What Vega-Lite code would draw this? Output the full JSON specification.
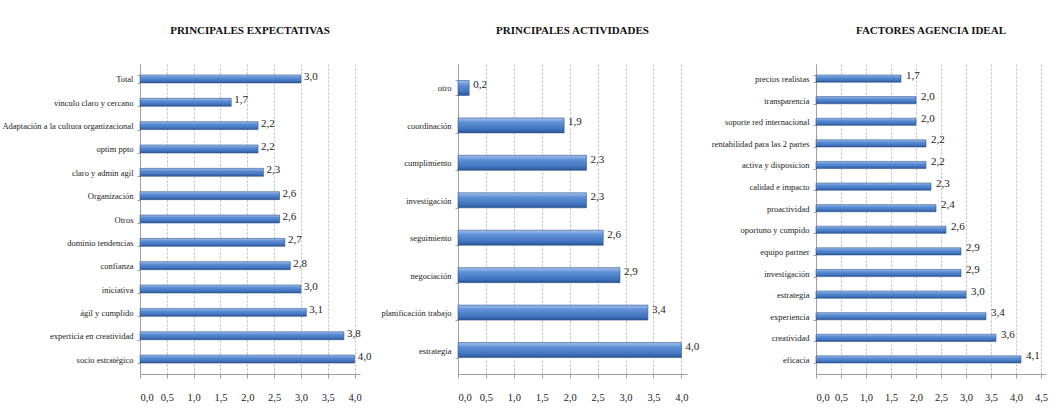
{
  "$schema": "https://vega.github.io/schema/vega-lite/v6.json",
  "background": "white",
  "padding": {"left": 1, "top": 25, "right": 0, "bottom": 0},
  "bounds": "flush",
  "spacing": 98,
  "datasets": {
    "expectativas": [
      {"categoria": "Total", "valor": 3.0},
      {"categoria": "vinculo claro  y cercano", "valor": 1.7},
      {"categoria": "Adaptación a la cultura organizacional", "valor": 2.2},
      {"categoria": "optim ppto", "valor": 2.2},
      {"categoria": "claro y admin agil", "valor": 2.3},
      {"categoria": "Organización", "valor": 2.6},
      {"categoria": "Otros", "valor": 2.6},
      {"categoria": "dominio tendencias", "valor": 2.7},
      {"categoria": "confianza", "valor": 2.8},
      {"categoria": "iniciativa", "valor": 3.0},
      {"categoria": "ágil y cumplido", "valor": 3.1},
      {"categoria": "experticia en creatividad", "valor": 3.8},
      {"categoria": "socio estratégico", "valor": 4.0}
    ],
    "actividades": [
      {"categoria": "otro", "valor": 0.2},
      {"categoria": "coordinación", "valor": 1.9},
      {"categoria": "cumplimiento", "valor": 2.3},
      {"categoria": "investigación", "valor": 2.3},
      {"categoria": "seguimiento", "valor": 2.6},
      {"categoria": "negociación", "valor": 2.9},
      {"categoria": "planificación  trabajo", "valor": 3.4},
      {"categoria": "estrategia", "valor": 4.0}
    ],
    "factores": [
      {"categoria": "precios realistas", "valor": 1.7},
      {"categoria": "transparencia", "valor": 2.0},
      {"categoria": "soporte red internacional", "valor": 2.0},
      {"categoria": "rentabilidad para las 2 partes", "valor": 2.2},
      {"categoria": "activa y disposicion", "valor": 2.2},
      {"categoria": "calidad e impacto", "valor": 2.3},
      {"categoria": "proactividad", "valor": 2.4},
      {"categoria": "oportuno y cumpido", "valor": 2.6},
      {"categoria": "equipo partner", "valor": 2.9},
      {"categoria": "investigación", "valor": 2.9},
      {"categoria": "estrategia", "valor": 3.0},
      {"categoria": "experiencia", "valor": 3.4},
      {"categoria": "creatividad", "valor": 3.6},
      {"categoria": "eficacia", "valor": 4.1}
    ]
  },
  "hconcat": [
    {
      "width": 220,
      "height": 310,
      "title": {"text": "PRINCIPALES  EXPECTATIVAS"},
      "data": {"name": "expectativas"},
      "encoding": {
        "y": {"field": "categoria", "type": "nominal", "sort": null, "title": null,
              "scale": {"paddingInner": 0.66, "paddingOuter": 0.47}},
        "x": {"field": "valor", "type": "quantitative", "title": null,
              "scale": {"domain": [0, 4.1], "nice": false},
              "axis": {"values": [0, 0.5, 1, 1.5, 2, 2.5, 3, 3.5, 4]}}
      },
      "layer": [
        {"mark": {"type": "bar", "fill": {"gradient": "linear", "x1": 0, "y1": 0, "x2": 0, "y2": 1,
            "stops": [{"offset": 0, "color": "#a4c2ec"}, {"offset": 0.3, "color": "#5f90d6"}, {"offset": 0.75, "color": "#4275c0"}, {"offset": 1, "color": "#2a5392"}]},
          "stroke": "#2f568f", "strokeWidth": 0.6}},
        {"mark": {"type": "text", "align": "left", "baseline": "middle", "dx": 3, "dy": -2, "font": "Liberation Serif, Times New Roman, serif", "fontSize": 11, "color": "#222"},
         "encoding": {"text": {"field": "valor", "type": "quantitative", "format": ".1f"}}}
      ]
    },
    {
      "spacing": 129,
      "bounds": "flush",
      "hconcat": [
        {
          "width": 229,
          "height": 310,
          "title": {"text": "PRINCIPALES ACTIVIDADES"},
          "data": {"name": "actividades"},
          "encoding": {
            "y": {"field": "categoria", "type": "nominal", "sort": null, "title": null,
                  "scale": {"paddingInner": 0.6, "paddingOuter": 0.44}},
            "x": {"field": "valor", "type": "quantitative", "title": null,
                  "scale": {"domain": [0, 4.1], "nice": false},
                  "axis": {"values": [0, 0.5, 1, 1.5, 2, 2.5, 3, 3.5, 4]}}
          },
          "layer": [
            {"mark": {"type": "bar", "fill": {"gradient": "linear", "x1": 0, "y1": 0, "x2": 0, "y2": 1,
                "stops": [{"offset": 0, "color": "#a4c2ec"}, {"offset": 0.3, "color": "#5f90d6"}, {"offset": 0.75, "color": "#4275c0"}, {"offset": 1, "color": "#2a5392"}]},
              "stroke": "#2f568f", "strokeWidth": 0.6}},
            {"mark": {"type": "text", "align": "left", "baseline": "middle", "dx": 4, "dy": -3, "font": "Liberation Serif, Times New Roman, serif", "fontSize": 11, "color": "#222"},
             "encoding": {"text": {"field": "valor", "type": "quantitative", "format": ".1f"}}}
          ]
        },
        {
          "width": 230,
          "height": 310,
          "title": {"text": "FACTORES AGENCIA IDEAL"},
          "data": {"name": "factores"},
          "encoding": {
            "y": {"field": "categoria", "type": "nominal", "sort": null, "title": null,
                  "scale": {"paddingInner": 0.67, "paddingOuter": 0.51}},
            "x": {"field": "valor", "type": "quantitative", "title": null,
                  "scale": {"domain": [0, 4.6], "nice": false},
                  "axis": {"values": [0, 0.5, 1, 1.5, 2, 2.5, 3, 3.5, 4, 4.5]}}
          },
          "layer": [
            {"mark": {"type": "bar", "fill": {"gradient": "linear", "x1": 0, "y1": 0, "x2": 0, "y2": 1,
                "stops": [{"offset": 0, "color": "#a4c2ec"}, {"offset": 0.3, "color": "#5f90d6"}, {"offset": 0.75, "color": "#4275c0"}, {"offset": 1, "color": "#2a5392"}]},
              "stroke": "#2f568f", "strokeWidth": 0.6}},
            {"mark": {"type": "text", "align": "left", "baseline": "middle", "dx": 5, "dy": -3, "font": "Liberation Serif, Times New Roman, serif", "fontSize": 11, "color": "#222"},
             "encoding": {"text": {"field": "valor", "type": "quantitative", "format": ".1f"}}}
          ]
        }
      ]
    }
  ],
  "config": {
    "locale": {"number": {"decimal": ",", "thousands": ".", "grouping": [3], "currency": ["", " €"]}},
    "view": {"stroke": null},
    "title": {"font": "Liberation Serif, Times New Roman, serif", "fontSize": 11, "fontWeight": "bold", "color": "#111", "offset": 24},
    "axis": {"labelFont": "Liberation Serif, Times New Roman, serif", "labelFontSize": 8.5, "labelColor": "#222", "labelLimit": 200,
             "domainColor": "#a0a0a0", "tickColor": "#a0a0a0", "gridColor": "#b8b8b8", "gridDash": [2, 2]},
    "axisY": {"grid": false, "tickBand": "extent", "tickSize": 3, "labelPadding": 4},
    "axisX": {"grid": true, "format": ".1f", "tickSize": 4, "labelPadding": 14, "labelFontSize": 10.5}
  }
}
